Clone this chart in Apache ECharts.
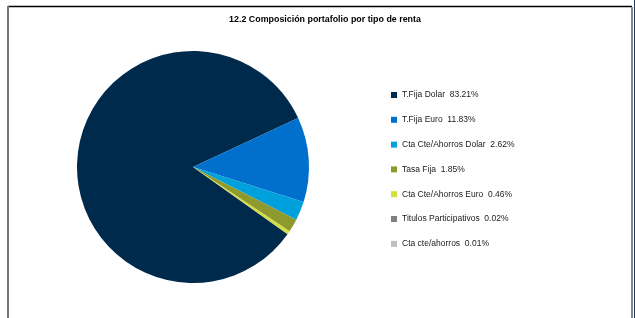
<!DOCTYPE html>
<html>
<head>
<meta charset="utf-8">
<script src="https://cdn.jsdelivr.net/npm/echarts@6/dist/echarts.min.js"></script>
<style>
html,body{margin:0;padding:0;background:#fff;}
#chart{width:635px;height:318px;}
</style>
</head>
<body>
<div id="chart"></div>
<script>
const titleText = '12.2 Composición portafolio por tipo de renta';
const categories = ['T.Fija Dolar', 'T.Fija Euro', 'Cta Cte/Ahorros Dolar', 'Tasa Fija', 'Cta Cte/Ahorros Euro', 'Titulos Participativos', 'Cta cte/ahorros'];
const values = [83.21, 11.83, 2.62, 1.85, 0.46, 0.02, 0.01];
const colors = ['#002A4C', '#0070CC', '#00A0DC', '#8F9A2E', '#D4DE3C', '#7F7F7F', '#BFBFBF'];

const chart = echarts.init(document.getElementById('chart'), null, {renderer: 'canvas'});
const total = values.reduce((a, b) => a + b, 0);
const option = {
  animation: false,
  title: {
    text: titleText,
    left: 325, top: 15, textAlign: 'center', padding: 0,
    textStyle: {fontFamily: 'Liberation Sans', fontSize: 8.9, fontWeight: 'bold', color: '#000'}
  },
  legend: {
    orient: 'vertical',
    left: 391, top: 89.5, padding: 0,
    itemWidth: 6, itemHeight: 6, itemGap: 13.8,
    icon: 'rect',
    data: categories,
    formatter: function (name) {
      const i = categories.indexOf(name);
      return name + '  ' + values[i].toFixed(2) + '%';
    },
    textStyle: {fontFamily: 'Liberation Sans', fontSize: 8.5, color: '#1a1a1a', lineHeight: 11}
  },
  series: [{
    type: 'pie',
    center: [193, 167],
    radius: [0, 116],
    startAngle: 25 + values[0] / total * 360,
    clockwise: true,
    label: {show: false},
    labelLine: {show: false},
    emphasis: {disabled: true},
    itemStyle: {borderWidth: 0},
    data: categories.map((c, i) => ({name: c, value: values[i], itemStyle: {color: colors[i]}}))
  }],
  graphic: [
    {type: 'line', shape: {x1: 8, y1: 6.5, x2: 632, y2: 6.5}, style: {stroke: '#000', lineWidth: 1.5}},
    {type: 'line', shape: {x1: 8, y1: 6, x2: 8, y2: 318}, style: {stroke: '#777', lineWidth: 2}},
    {type: 'line', shape: {x1: 632, y1: 7, x2: 632, y2: 318}, style: {stroke: '#888', lineWidth: 2}},
    {type: 'line', shape: {x1: 634.5, y1: 0, x2: 634.5, y2: 318}, style: {stroke: '#1F3864', lineWidth: 1}}
  ]
};
chart.setOption(option);
</script>
</body>
</html>
